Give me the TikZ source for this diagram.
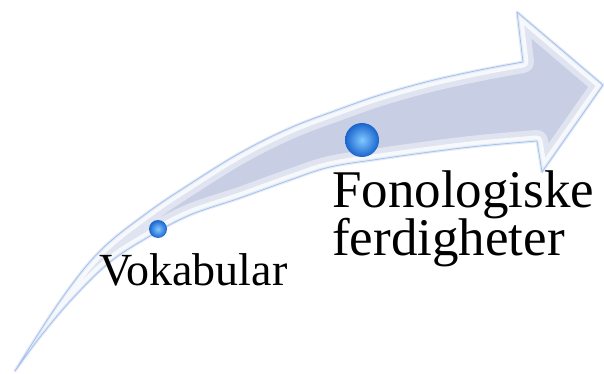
\documentclass[tikz,border=0pt]{standalone}
\usepackage{fontspec}
\setmainfont{Liberation Serif}
\definecolor{bodyc}{RGB}{200,206,228}
\definecolor{edgec}{RGB}{165,190,230}
\definecolor{glowc}{RGB}{224,234,248}
\definecolor{ballin}{RGB}{130,200,255}
\definecolor{ballout}{RGB}{25,100,205}
\tikzset{
  lbl/.style={inner sep=0pt, anchor=base west, text=black},
  orb/.style={inner color=ballin, outer color=ballout}
}
\begin{document}
\begin{tikzpicture}[x=1pt,y=-1pt]
\useasboundingbox (0,0) rectangle (604,374);
\path[save path=\arrowp]
  plot[smooth, tension=0.6] coordinates {(15,371) (60,301) (100,251) (147,213) (190,184) (240,153) (290,128) (340,109) (380,95) (430,81) (480,70) (523,62)}
  -- (517,12) -- (603,85) -- (542,172) -- (537,141)
  -- plot[smooth, tension=0.6] coordinates {(537,141) (480,146) (430,152) (380,159) (330,167) (290,180) (240,198) (190,215) (150,236) (110,262) (73,298) (40,337) (15,371)}
  -- cycle;
\begin{scope}
  \clip[use path=\arrowp];
  \fill[bodyc, use path=\arrowp];
  \draw[white, opacity=0.45, line width=22pt, line join=round, use path=\arrowp];
  \draw[white, opacity=0.75, line width=11pt, line join=round, use path=\arrowp];
\end{scope}
\draw[glowc, line width=3pt, line join=round, use path=\arrowp];
\draw[edgec, line width=0.7pt, line join=round, use path=\arrowp];
\shade[orb] (158,229) circle (9);
\shade[orb] (362,140) circle (17);
\node[lbl, font=\fontsize{46}{48}\selectfont] (vok) at (99,285) {Vokabular};
\node[lbl, font=\fontsize{53}{48}\selectfont] (fon) at (332,207) {Fonologiske};
\node[lbl, font=\fontsize{53}{48}\selectfont] (fer) at (332,255) {ferdigheter};
\end{tikzpicture}
\end{document}
